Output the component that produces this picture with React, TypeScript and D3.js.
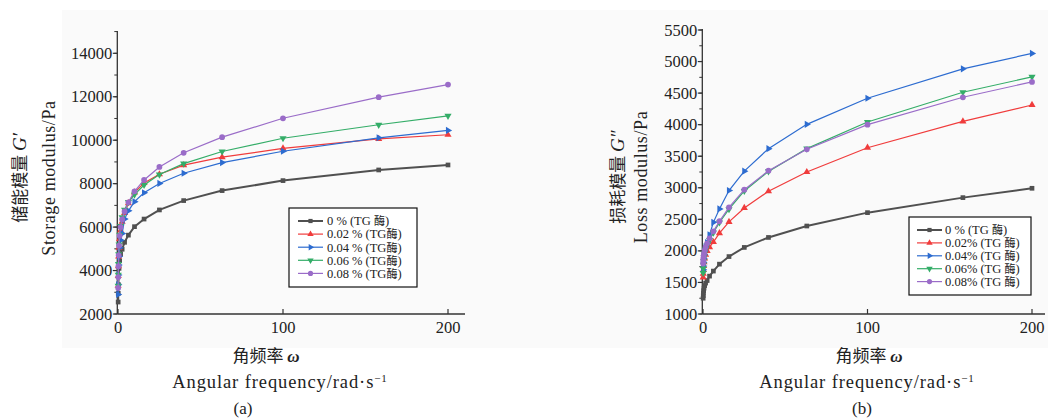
import React, { useEffect, useRef } from 'react';
import * as d3 from 'd3';

// angular frequency (rad/s)
const freq = [0.1, 0.158, 0.251, 0.398, 0.631, 1, 1.58, 2.51, 3.98, 6.31, 10, 15.8, 25.1, 39.8, 63.1, 100, 158, 200];

// storage modulus G' (Pa)
const storage0 = [2550, 2950, 3350, 3750, 4100, 4450, 4750, 4980, 5300, 5630, 6020, 6370, 6790, 7220, 7680, 8140, 8630, 8860];
const storage002 = [3300, 3750, 4200, 4650, 5050, 5450, 5850, 6250, 6650, 7100, 7600, 8030, 8430, 8850, 9220, 9620, 10060, 10250];
const storage004 = [2900, 3350, 3800, 4250, 4650, 5050, 5400, 5700, 6370, 6750, 7170, 7580, 8010, 8480, 8970, 9490, 10110, 10450];
const storage006 = [3300, 3800, 4300, 4750, 5200, 5650, 6050, 6450, 6800, 7150, 7500, 7940, 8420, 8920, 9480, 10090, 10710, 11120];
const storage008 = [3200, 3700, 4200, 4700, 5150, 5600, 6000, 6350, 6720, 7140, 7650, 8170, 8770, 9420, 10140, 11010, 11980, 12560];

// loss modulus G'' (Pa)
const loss0 = [1250, 1290, 1330, 1370, 1410, 1450, 1490, 1530, 1600, 1680, 1790, 1910, 2055, 2213, 2394, 2606, 2844, 2992];
const loss002 = [1580, 1640, 1700, 1760, 1820, 1880, 1940, 2000, 2060, 2140, 2280, 2460, 2680, 2945, 3250, 3635, 4053, 4312];
const loss004 = [1700, 1760, 1820, 1880, 1940, 2000, 2060, 2130, 2256, 2452, 2665, 2956, 3263, 3620, 4005, 4419, 4885, 5129];
const loss006 = [1650, 1720, 1780, 1840, 1900, 1960, 2020, 2090, 2170, 2290, 2450, 2660, 2950, 3260, 3620, 4042, 4514, 4757];
const loss008 = [1800, 1840, 1880, 1920, 1960, 2010, 2060, 2120, 2200, 2310, 2470, 2690, 2970, 3270, 3610, 4000, 4434, 4678];

const xTicks = [0, 100, 200];
const storageTicks = [2000, 4000, 6000, 8000, 10000, 12000, 14000];
const lossTicks = [1000, 1500, 2000, 2500, 3000, 3500, 4000, 4500, 5000, 5500];

const legendA = ['0 % (TG 酶)', '0.02 % (TG酶)', '0.04 % (TG酶)', '0.06 % (TG酶)', '0.08 % (TG酶)'];
const legendB = ['0 % (TG 酶)', '0.02% (TG 酶)', '0.04% (TG 酶)', '0.06% (TG 酶)', '0.08% (TG 酶)'];

const colors = ['#505050', '#f03c3c', '#2d6cd0', '#34ad68', '#9a6cc8'];
const shapes = [
  { type: d3.symbolSquare, size: 22, rot: 0 },
  { type: d3.symbolTriangle, size: 22, rot: 0 },
  { type: d3.symbolTriangle, size: 22, rot: 90 },
  { type: d3.symbolTriangle, size: 22, rot: 180 },
  { type: d3.symbolCircle, size: 26, rot: 0 },
];

const SERIF = "'Liberation Serif', 'Times New Roman', serif";
const CJK = "'Liberation Serif', 'Noto Sans CJK SC', serif";
const CJK_ONLY = "'Noto Sans CJK SC', sans-serif";

function drawPanel(root, cfg) {
  const g = root.append('g');
  const x = d3.scaleLinear().domain([0, 200]).range(cfg.xRange);
  const y = d3.scaleLinear().domain(cfg.yDomain).range(cfg.yRange);
  const axisX = cfg.xRange[0] - 0.7;
  const axisY = y(cfg.yDomain[0]);

  // axes
  g.append('line').attr('x1', axisX).attr('x2', axisX).attr('y1', axisY).attr('y2', cfg.yTop)
    .attr('stroke', '#333').attr('stroke-width', 1.3);
  g.append('line').attr('x1', axisX).attr('x2', cfg.xEnd).attr('y1', axisY).attr('y2', axisY)
    .attr('stroke', '#333').attr('stroke-width', 1.3);

  // y ticks
  const minor = d3.range(cfg.yDomain[0], cfg.yMax + 1, cfg.minorStep);
  g.selectAll('.ymin').data(minor).join('line')
    .attr('x1', axisX - 3).attr('x2', axisX).attr('y1', d => y(d)).attr('y2', d => y(d))
    .attr('stroke', '#333').attr('stroke-width', 1);
  g.selectAll('.ymaj').data(cfg.yTicks).join('line')
    .attr('x1', axisX - 4.5).attr('x2', axisX).attr('y1', d => y(d)).attr('y2', d => y(d))
    .attr('stroke', '#333').attr('stroke-width', 1.2);
  g.selectAll('.ylab').data(cfg.yTicks).join('text')
    .attr('x', axisX - 5).attr('y', d => y(d) + 5.5)
    .attr('text-anchor', 'end').attr('font-family', SERIF).attr('font-size', 16.5).attr('fill', '#222')
    .text(d => d);

  // x ticks
  g.selectAll('.xtk').data(xTicks).join('line')
    .attr('x1', d => x(d)).attr('x2', d => x(d)).attr('y1', axisY).attr('y2', axisY - 5)
    .attr('stroke', '#333').attr('stroke-width', 1.2);
  g.selectAll('.xlab').data(xTicks).join('text')
    .attr('x', d => x(d)).attr('y', axisY + 19)
    .attr('text-anchor', 'middle').attr('font-family', SERIF).attr('font-size', 16.5).attr('fill', '#222')
    .text(d => d);

  // series
  const line = d3.line().x(d => x(d[0])).y(d => y(d[1]));
  cfg.series.forEach((vals, i) => {
    const pts = freq.map((f, k) => [f, vals[k]]);
    g.append('path').datum(pts).attr('d', line).attr('fill', 'none')
      .attr('stroke', colors[i]).attr('stroke-width', i === 0 ? 2 : 1.2);
    const sym = d3.symbol().type(shapes[i].type).size(shapes[i].size);
    g.selectAll(`.m${i}`).data(pts).join('path')
      .attr('transform', d => `translate(${x(d[0])},${y(d[1])}) rotate(${shapes[i].rot})`)
      .attr('d', sym).attr('fill', colors[i]);
  });

  // legend
  const L = cfg.legend;
  g.append('rect').attr('x', L.x).attr('y', L.y).attr('width', L.w).attr('height', L.h)
    .attr('fill', '#fff').attr('stroke', '#111').attr('stroke-width', 1.2);
  cfg.legendText.forEach((t, i) => {
    const ry = L.y + L.first + i * L.step;
    g.append('line').attr('x1', L.x + L.lx0).attr('x2', L.x + L.lx1).attr('y1', ry).attr('y2', ry)
      .attr('stroke', colors[i]).attr('stroke-width', i === 0 ? 2 : 1.2);
    const sym = d3.symbol().type(shapes[i].type).size(shapes[i].size * 0.8);
    g.append('path').attr('d', sym)
      .attr('transform', `translate(${L.x + (L.lx0 + L.lx1) / 2},${ry}) rotate(${shapes[i].rot})`)
      .attr('fill', colors[i]);
    const [num, cn] = t.split('酶');
    const tx = g.append('text').attr('x', L.x + L.tx).attr('y', ry + 4.3)
      .attr('font-family', SERIF).attr('font-size', 12.5).attr('fill', '#222');
    tx.append('tspan').text(num);
    tx.append('tspan').attr('font-family', CJK_ONLY).attr('font-size', 11).text('酶');
    tx.append('tspan').text(cn);
  });

  // y labels
  const yl = g.append('text').attr('transform', `translate(${cfg.cnX},${cfg.labelY}) rotate(-90)`)
    .attr('text-anchor', 'middle').attr('font-family', CJK).attr('font-size', 17).attr('fill', '#222');
  yl.append('tspan').attr('font-family', CJK_ONLY).text(cfg.cnLabel + ' ');
  yl.append('tspan').attr('font-style', 'italic').attr('font-family', SERIF).attr('font-size', 19).text(cfg.sym);
  g.append('text').attr('transform', `translate(${cfg.enX},${cfg.labelY}) rotate(-90)`)
    .attr('text-anchor', 'middle').attr('font-family', SERIF).attr('font-size', 18).attr('fill', '#222')
    .attr('letter-spacing', 0.6).text(cfg.enLabel);

  // x labels
  const xl = g.append('text').attr('x', cfg.bottom[0]).attr('y', 362).attr('text-anchor', 'middle')
    .attr('font-size', 17).attr('fill', '#222');
  xl.append('tspan').attr('font-family', CJK_ONLY).text('角频率 ');
  xl.append('tspan').attr('font-family', SERIF).attr('font-style', 'italic').attr('font-weight', 'bold').text('ω');
  const en = g.append('text').attr('x', cfg.bottom[1]).attr('y', 388).attr('text-anchor', 'middle')
    .attr('font-family', SERIF).attr('font-size', 18.5).attr('letter-spacing', 0.9).attr('fill', '#222');
  en.append('tspan').text('Angular  frequency/rad·s');
  en.append('tspan').attr('dy', -6).attr('font-size', 11).text('−1');
  g.append('text').attr('x', cfg.bottom[2]).attr('y', 414).attr('text-anchor', 'middle')
    .attr('font-family', SERIF).attr('font-size', 17).attr('fill', '#222').text(cfg.tag);
}

export default function App() {
  const ref = useRef(null);

  useEffect(() => {
    const svg = d3.select(ref.current);
    svg.selectAll('*').remove();
    svg.append('rect').attr('x', 62).attr('y', 10).attr('width', 986).attr('height', 338).attr('fill', '#fafafa');

    drawPanel(svg, {
      xRange: [118, 448], xEnd: 465,
      yDomain: [2000, 14000], yRange: [314, 53.3], yTop: 31, yMax: 15000, minorStep: 1000,
      yTicks: storageTicks,
      series: [storage0, storage002, storage004, storage006, storage008],
      legend: { x: 289, y: 208, w: 128, h: 79, first: 13, step: 13.1, lx0: 9, lx1: 34, tx: 38 },
      legendText: legendA,
      cnX: 26, enX: 55, labelY: 178, cnLabel: '储能模量', sym: 'G′', enLabel: 'Storage modulus/Pa',
      bottom: [266, 280, 243], tag: '(a)',
    });

    drawPanel(svg, {
      xRange: [703, 1032], xEnd: 1045,
      yDomain: [1000, 5500], yRange: [314, 30], yTop: 29, yMax: 5500, minorStep: 250,
      yTicks: lossTicks,
      series: [loss0, loss002, loss004, loss006, loss008],
      legend: { x: 909, y: 217, w: 122, h: 78, first: 13, step: 12.9, lx0: 8, lx1: 33, tx: 36 },
      legendText: legendB,
      cnX: 624, enX: 647, labelY: 177, cnLabel: '损耗模量', sym: 'G″', enLabel: 'Loss  modulus/Pa',
      bottom: [869, 867, 862], tag: '(b)',
    });
  }, []);

  return (
    <svg ref={ref} width={1048} height={419} style={{ position: 'absolute', left: 0, top: 0, background: '#fff' }} />
  );
}
